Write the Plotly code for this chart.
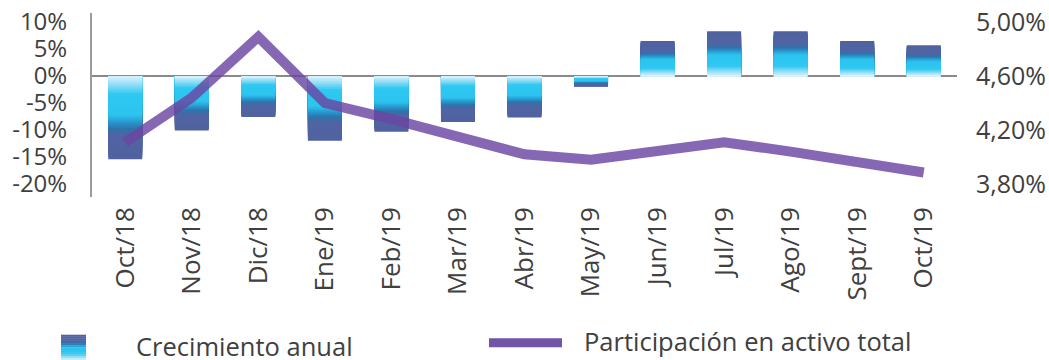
import plotly.graph_objects as go

# ---- data -------------------------------------------------------------
months = ["Oct/18", "Nov/18", "Dic/18", "Ene/19", "Feb/19", "Mar/19", "Abr/19",
          "May/19", "Jun/19", "Jul/19", "Ago/19", "Sept/19", "Oct/19"]
growth = [-15.4, -10.1, -7.6, -12.0, -10.3, -8.5, -7.7, -2.0, 6.5, 8.3, 8.3, 6.5, 5.7]
share = [4.11, 4.44, 4.89, 4.40, 4.28, 4.15, 4.02, 3.98, 4.04, 4.11, 4.04, 3.96, 3.885]

left_tickvals = [10, 5, 0, -5, -10, -15, -20]
left_ticktext = ["10%", "5%", "0%", "-5%", "-10%", "-15%", "-20%"]
right_tickvals = [5.00, 4.60, 4.20, 3.80]
right_ticktext = ["5,00%", "4,60%", "4,20%", "3,80%"]

# ---- geometry ---------------------------------------------------------
W, H = 1049, 360
ML, MR, MT, MB = 92, 92, 13, 163
PW, PH = W - ML - MR, H - MT - MB

FONT = "Open Sans"
TXT = "#404040"


def px_x(x):
    return (x - ML) / PW


def px_y(y):
    return (H - MB - y) / PH


# gradient along a bar: 0 = at the zero line, 1 = at the bar tip
STOPS = [
    (0.00, (222, 243, 252)),
    (0.10, (150, 222, 247)),
    (0.22, (46, 200, 242)),
    (0.47, (44, 196, 238)),
    (0.56, (40, 150, 205)),
    (0.63, (42, 118, 172)),
    (0.71, (80, 100, 163)),
    (1.00, (80, 98, 160)),
]


def grad(t):
    for (t0, c0), (t1, c1) in zip(STOPS, STOPS[1:]):
        if t <= t1:
            f = (t - t0) / (t1 - t0) if t1 > t0 else 0
            c = [round(a + (b - a) * f) for a, b in zip(c0, c1)]
            return "rgb({},{},{})".format(*c)
    return "rgb({},{},{})".format(*STOPS[-1][1])


fig = go.Figure()

# bars: nested overlays, longest (tip colour) first, shortest (near zero) last
N = 40
for k in range(N):
    frac = (N - k) / N
    fig.add_trace(go.Bar(
        x=months,
        y=[v * frac for v in growth],
        width=0.51,
        marker=dict(color=grad((N - k - 0.5) / N), line=dict(width=0)),
        showlegend=False,
        hoverinfo="skip",
    ))

fig.add_trace(go.Scatter(
    x=months, y=share, yaxis="y2", mode="lines",
    line=dict(color="rgba(106,70,162,0.82)", width=10),
    showlegend=False,
))

# ---- custom legend ----------------------------------------------------
shapes = []
M = 14
top, bot = 335, 360
for i in range(M):
    y0 = top + (bot - top) * i / M
    y1 = top + (bot - top) * (i + 1) / M
    shapes.append(dict(
        type="rect", xref="paper", yref="paper",
        x0=px_x(61), x1=px_x(86), y0=px_y(y1), y1=px_y(y0 - 0.3),
        fillcolor=grad(1 - (i + 0.5) / M), line=dict(width=0), layer="above",
    ))
shapes.append(dict(
    type="line", xref="paper", yref="paper",
    x0=px_x(489), x1=px_x(562), y0=px_y(342.7), y1=px_y(342.7),
    line=dict(color="rgb(112,84,168)", width=9),
))

annotations = [
    dict(text="Crecimiento anual", xref="paper", yref="paper",
         x=px_x(134), y=px_y(346), xanchor="left", yanchor="middle",
         showarrow=False, font=dict(family=FONT, size=25.5, color=TXT)),
    dict(text="Participación en activo total", xref="paper", yref="paper",
         x=px_x(582), y=px_y(341), xanchor="left", yanchor="middle",
         showarrow=False, font=dict(family=FONT, size=25.5, color=TXT)),
]

fig.update_layout(
    width=W, height=H,
    margin=dict(l=ML, r=MR, t=MT, b=MB, autoexpand=False),
    paper_bgcolor="white", plot_bgcolor="white",
    barmode="overlay",
    showlegend=False,
    font=dict(family=FONT, size=24, color=TXT),
    xaxis=dict(
        showgrid=False, showline=False, zeroline=False, ticks="",
        tickangle=-90, tickfont=dict(size=26, color=TXT),
        ticklabelstandoff=4, automargin=False,
    ),
    yaxis=dict(
        range=[-22.4, 11.67],
        tickvals=left_tickvals, ticktext=left_ticktext,
        showgrid=False, ticks="",
        showline=True, linecolor="#9a9a9a", linewidth=2,
        zeroline=True, zerolinecolor="#8a8a8a", zerolinewidth=2,
        tickfont=dict(size=24, color=TXT),
        ticklabelstandoff=18, automargin=False,
    ),
    yaxis2=dict(
        overlaying="y", side="right",
        range=[4.6 + 0.04 * -22.4, 4.6 + 0.04 * 11.67],
        tickvals=right_tickvals, ticktext=right_ticktext,
        showgrid=False, zeroline=False, showline=False, ticks="",
        tickfont=dict(size=25, color=TXT),
        ticklabelstandoff=18, automargin=False,
    ),
    shapes=shapes,
    annotations=annotations,
)

fig.write_html("out.html")
